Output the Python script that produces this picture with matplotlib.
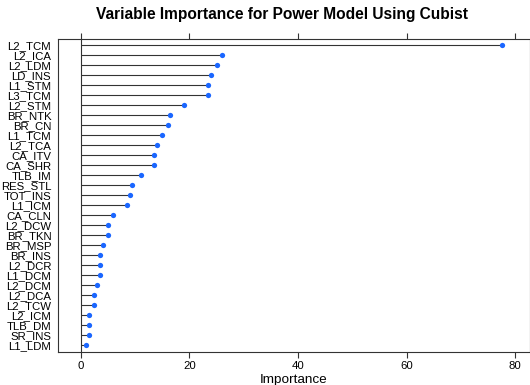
import matplotlib
matplotlib.use("Agg")
import matplotlib.pyplot as plt

variables = ["L2_TCM", "L2_ICA", "L2_LDM", "LD_INS", "L1_STM", "L3_TCM", "L2_STM",
             "BR_NTK", "BR_CN", "L1_TCM", "L2_TCA", "CA_ITV", "CA_SHR", "TLB_IM",
             "RES_STL", "TOT_INS", "L1_ICM", "CA_CLN", "L2_DCW", "BR_TKN", "BR_MSP",
             "BR_INS", "L2_DCR", "L1_DCM", "L2_DCM", "L2_DCA", "L2_TCW", "L2_ICM",
             "TLB_DM", "SR_INS", "L1_LDM"]
importance = [77.5, 26.0, 25.0, 24.0, 23.5, 23.5, 19.0,
              16.5, 16.1, 15.0, 14.0, 13.5, 13.5, 11.0,
              9.5, 9.0, 8.5, 6.0, 5.0, 5.0, 4.0,
              3.5, 3.5, 3.5, 3.0, 2.5, 2.5, 1.5,
              1.5, 1.5, 1.0]
xticks = [0, 20, 40, 60, 80]

plt.rcParams['font.family'] = ['Liberation Sans', 'DejaVu Sans']

fig = plt.figure(figsize=(5.3, 3.85), dpi=100)
W, H = 530, 385
left, right, top, bottom = 57.5, 530, 39.3, 351.7
ax = fig.add_axes([left / W, 1 - bottom / H, (right - left) / W, (bottom - top) / H])

ypos = list(range(len(variables)))
ax.axvline(0, color='#333333', lw=0.8, zorder=1)
ax.hlines(ypos, 0, importance, color='#333333', lw=0.8, zorder=2)
ax.plot(importance, ypos, 'o', color='#1a66ff', ms=3.8, mec='none', zorder=3)

ax.set_xlim(-4.3, 82.7)
ax.set_ylim(len(variables) - 1 + 0.67, -0.57)
ax.set_yticks(ypos)
ax.set_yticklabels(variables, fontsize=8.2)
ax.tick_params(axis='y', length=0, pad=4.5)
ax.set_xticks(xticks)
ax.set_xticklabels([str(t) for t in xticks], fontsize=8.2)
ax.tick_params(axis='x', direction='out', length=4, width=0.8, color='#333333',
               top=True, bottom=True, labeltop=False, pad=3)
for s in ax.spines.values():
    s.set_color('#333333')
    s.set_linewidth(0.8)

ax.set_xlabel('Importance', fontsize=9.7, labelpad=2)
fig.text(282 / W, 1 - 14 / H, 'Variable Importance for Power Model Using Cubist',
         ha='center', va='center', fontsize=11.2, fontweight='bold')

fig.savefig('out.png', dpi=100)
